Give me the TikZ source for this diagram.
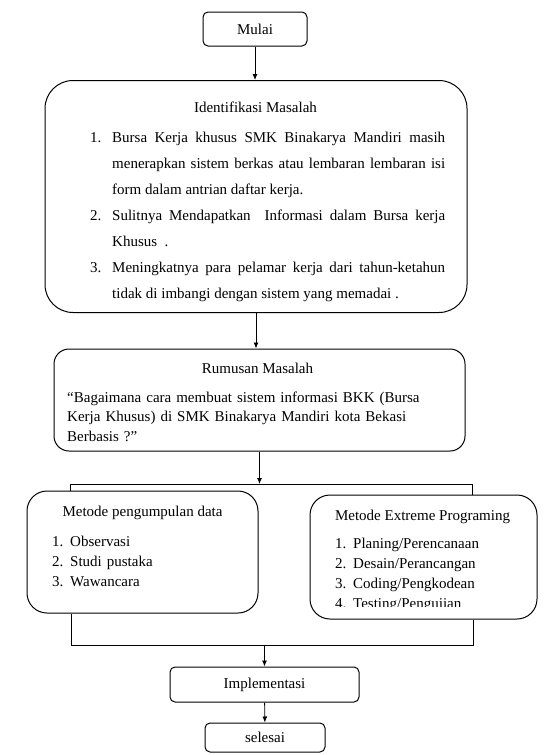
\documentclass[tikz,border=0pt]{standalone}
\usepackage{fontspec}
\setmainfont{Liberation Serif}
\usetikzlibrary{arrows.meta}
\newcommand{\butir}[3]{\hangindent=#1\hangafter=1\noindent\makebox[#1][l]{#2.}#3\par}
\begin{document}
\begin{tikzpicture}[x=1pt,y=-1pt,
  every node/.style={font=\fontsize{15}{18}\selectfont},
  kotak/.style={draw,line width=1pt,inner sep=0pt,rounded corners=#1},
  kotak/.default=5pt,
  judul/.style={anchor=base},
  daftar/.style={anchor=base west,inner sep=0pt,text width=#1},
  panah/.style={line width=0.9pt,-{Latex[length=6pt,width=5pt]}},
  garis/.style={line width=0.9pt}]
\useasboundingbox (0,0) rectangle (551,755);
\node[kotak, minimum width=104pt, minimum height=34pt] (mulai) at (255,29) {Mulai};
\node[kotak=28pt, minimum width=422pt, minimum height=232pt] (ident) at (256,196.5) {};
\node[judul] (identJudul) at (255.5,112) {Identifikasi Masalah};
\begin{scope}
\clip (45,80) rectangle (467,301);
\node[daftar=355pt, align=justify, font=\fontsize{15}{26}\selectfont] (identIsi) at (90,142)
{\butir{22pt}{1}{Bursa Kerja khusus SMK Binakarya Mandiri masih\linebreak menerapkan sistem berkas atau lembaran lembaran isi\linebreak form dalam antrian daftar kerja.}
\butir{22pt}{2}{Sulitnya Mendapatkan~ Informasi dalam Bursa kerja\linebreak Khusus~~.}
\butir{22pt}{3}{Meningkatnya para pelamar kerja dari tahun-ketahun\linebreak tidak di imbangi dengan sistem yang memadai .}};
\end{scope}
\node[kotak=15pt, minimum width=411pt, minimum height=102pt] (rumusan) at (259.5,400) {};
\node[judul] (rumusanJudul) at (257.5,373) {Rumusan Masalah};
\node[daftar=385pt, align=left, font=\fontsize{15}{19.5}\selectfont] (rumusanIsi) at (67,402)
{“Bagaimana cara membuat sistem informasi BKK (Bursa\\Kerja Khusus) di SMK Binakarya Mandiri kota Bekasi\\Berbasis ?”};
\node[kotak=20pt, minimum width=231pt, minimum height=122pt] (kumpul) at (142.5,552) {};
\node[judul] (kumpulJudul) at (142.5,516) {Metode pengumpulan data};
\node[daftar=180pt, align=left, font=\fontsize{15}{20}\selectfont] (kumpulIsi) at (52,546)
{\butir{18pt}{1}{Observasi}\butir{18pt}{2}{Studi pustaka}\butir{18pt}{3}{Wawancara}};
\node[kotak=20pt, minimum width=227pt, minimum height=124pt] (xp) at (423.5,557) {};
\node[judul] (xpJudul) at (422.5,520) {Metode Extreme Programing};
\begin{scope}
\clip (310,495) rectangle (537,606);
\node[daftar=180pt, align=left, font=\fontsize{15}{20}\selectfont] (xpIsi) at (335,548)
{\butir{18pt}{1}{Planing/Perencanaan}\butir{18pt}{2}{Desain/Perancangan}\butir{18pt}{3}{Coding/Pengkodean}\butir{18pt}{4}{Testing/Pengujian}};
\end{scope}
\node[kotak, minimum width=189pt, minimum height=35pt] (impl) at (264.5,684.5) {Implementasi};
\node[kotak, minimum width=120pt, minimum height=29pt] (selesai) at (265,737.5) {selesai};
\coordinate (busL) at (70,484);
\coordinate (busR) at (472,484);
\coordinate (joinL) at (71,645);
\coordinate (joinR) at (473,645);
\draw[panah] (mulai.south) -- (mulai.south |- ident.north);
\draw[panah] (ident.south) -- (ident.south |- rumusan.north);
\draw[panah] (rumusan.south) -- (rumusan.south |- busL);
\draw[garis] (kumpul.north -| busL) -- (busL) -- (busR) -- (xp.north -| busR);
\draw[garis] (kumpul.south -| joinL) -- (joinL) -- (joinR) -- (xp.south -| joinR);
\draw[panah] (impl.north |- joinL) -- (impl.north);
\draw[panah] (impl) -- (selesai);
\end{tikzpicture}
\end{document}
